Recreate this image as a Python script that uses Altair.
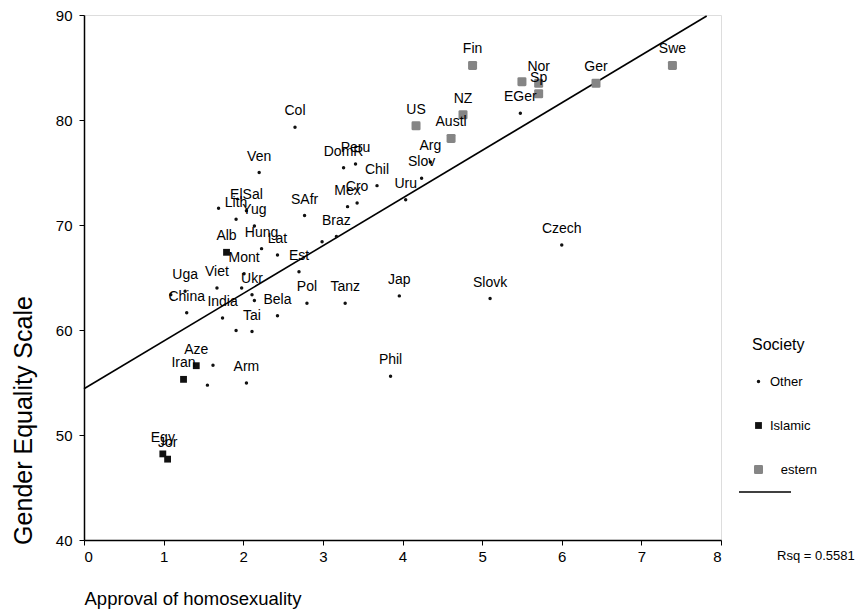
import altair as alt
import pandas as pd

# ---- data ----
labels = [
    "Col", "Ven", "DomR", "Peru", "Chil", "Mex", "Cro", "", "Lith", "ElSal",
    "Yug", "SAfr", "Hung", "Lat", "Braz", "", "Est", "Mont", "Viet", "",
    "Ukr", "", "Bela", "India", "Tai", "", "Uga", "China", "", "Pol",
    "Tanz", "Jap", "", "", "Arm", "Phil", "Czech", "Slovk", "Arg", "Slov",
    "Uru", "EGer",
    "Alb", "Aze", "Iran", "Egy", "Jor",
    "Fin", "Swe", "Ger", "Nor", "Sp", "", "NZ", "US", "Austl",
]
approval = [
    2.65, 2.20, 3.26, 3.41, 3.68, 3.31, 3.43, 1.69, 1.91, 2.04,
    2.14, 2.77, 2.23, 2.43, 3.17, 2.99, 2.70, 2.01, 1.67, 1.98,
    2.11, 2.14, 2.43, 1.74, 2.11, 1.91, 1.27, 1.29, 1.09, 2.80,
    3.28, 3.96, 1.62, 1.55, 2.04, 3.85, 6.00, 5.10, 4.35, 4.24,
    4.04, 5.48,
    1.79, 1.41, 1.25, 0.99, 1.05,
    4.88, 7.39, 6.43, 5.71, 5.71, 5.50, 4.76, 4.17, 4.61,
]
equality = [
    79.3, 75.0, 75.45, 75.8, 73.75, 71.75, 72.1, 71.6, 70.55, 71.35,
    69.9, 70.9, 67.75, 67.15, 68.9, 68.4, 65.55, 65.35, 64.0, 64.0,
    63.35, 62.8, 61.35, 61.15, 59.85, 59.95, 63.7, 61.65, 63.35, 62.55,
    62.55, 63.25, 56.65, 54.75, 54.95, 55.6, 68.1, 63.0, 76.0, 74.45,
    72.4, 80.65,
    67.4, 56.6, 55.3, 48.2, 47.7,
    85.2, 85.2, 83.5, 83.5, 82.5, 83.65, 80.5, 79.45, 78.25,
]
society = ["Other"] * 42 + ["Islamic"] * 5 + ["Western"] * 9

categories = ["Other", "Islamic", "Western"]
x_ticks = [0, 1, 2, 3, 4, 5, 6, 7, 8]
y_ticks = [40, 50, 60, 70, 80, 90]
reg_x = [0.0, 7.82]
reg_y = [54.4, 89.9]
rsq_label = ["Rsq = 0.5581"]

df = pd.DataFrame({"label": labels, "approval": approval,
                   "equality": equality, "society": society})
reg = pd.DataFrame({"approval": reg_x, "equality": reg_y})
rsq = pd.DataFrame({"t": rsq_label})

FONT = "Liberation Sans, Arial, sans-serif"

xscale = alt.Scale(domain=[0, 8], nice=False, zero=False)
yscale = alt.Scale(domain=[40, 90], nice=False, zero=False)

xaxis = alt.Axis(
    values=x_ticks, format="d", grid=False, tickSize=5, tickColor="black",
    domainColor="black", domainWidth=1.5, labelFont=FONT, labelFontSize=15,
    labelColor="black", labelPadding=4, title="Approval of homosexuality",
    titleFont=FONT, titleFontSize=18.5, titleFontWeight="normal", titleColor="black",
    titleAnchor="start", titleAlign="left", titleX=0, titleY=64,
    titleBaseline="alphabetic",
)
yaxis = alt.Axis(
    values=y_ticks, format="d", grid=False, tickSize=5, tickColor="black",
    domainColor="black", domainWidth=1.5, labelFont=FONT, labelFontSize=15,
    labelColor="black", labelPadding=7, title="Gender Equality Scale",
    titleFont=FONT, titleFontSize=25, titleFontWeight="normal", titleColor="black",
    titleAngle=270, titleX=-61, titleY=405, titleAlign="center",
    titleBaseline="middle",
)

rounded = ("M-0.7,-1L0.7,-1Q1,-1,1,-0.7L1,0.7Q1,1,0.7,1L-0.7,1Q-1,1,-1,0.7"
           "L-1,-0.7Q-1,-1,-0.7,-1Z")

leg = alt.Legend(
    title="Society", orient="none", legendX=668, legendY=322,
    titleFont=FONT, titleFontSize=16, titleFontWeight="normal", titleColor="black",
    titlePadding=22, labelFont=FONT, labelFontSize=13, labelColor="black",
    labelOffset=5, rowPadding=30, padding=0, symbolStrokeWidth=0,
    labelExpr=("datum.value == 'Western' ? "
               "'\u200b\u00a0\u00a0\u00a0estern' : datum.value"),
)

points = alt.Chart(df).mark_point(filled=True, opacity=1, strokeWidth=0).encode(
    x=alt.X("approval:Q", scale=xscale, axis=xaxis),
    y=alt.Y("equality:Q", scale=yscale, axis=yaxis),
    color=alt.Color("society:N", scale=alt.Scale(domain=categories,
                    range=["#111111", "#111111", "#858585"]), legend=leg),
    shape=alt.Shape("society:N", scale=alt.Scale(domain=categories,
                    range=["circle", "square", rounded]), legend=leg),
    size=alt.Size("society:N", scale=alt.Scale(domain=categories,
                  range=[12, 81, 150]), legend=leg),
)

texts = alt.Chart(df).mark_text(dy=-16, fontSize=14, font=FONT, color="black",
                                baseline="middle").encode(
    x=alt.X("approval:Q", scale=xscale),
    y=alt.Y("equality:Q", scale=yscale),
    text="label:N",
)

line = alt.Chart(reg).mark_line(color="black", strokeWidth=1.6).encode(
    x=alt.X("approval:Q", scale=xscale),
    y=alt.Y("equality:Q", scale=yscale),
)

legend_line = alt.Chart(rsq).mark_rule(color="black", strokeWidth=1.6).encode(
    x=alt.value(655), x2=alt.value(707), y=alt.value(477)
)

rsq_text = alt.Chart(rsq).mark_text(align="left", baseline="middle", fontSize=13,
                                     font=FONT, color="black").encode(
    x=alt.value(693), y=alt.value(541), text="t:N"
)

chart = alt.layer(line, points, texts, legend_line, rsq_text).properties(
    width=637, height=525,
    autosize=alt.AutoSizeParams(type="none"),
    padding={"left": 76, "top": 7, "right": 137, "bottom": 72},
).configure_view(stroke="black", strokeWidth=1.5).configure(background="white")

chart.save("out.html", embed_options={"renderer": "svg", "actions": False})
